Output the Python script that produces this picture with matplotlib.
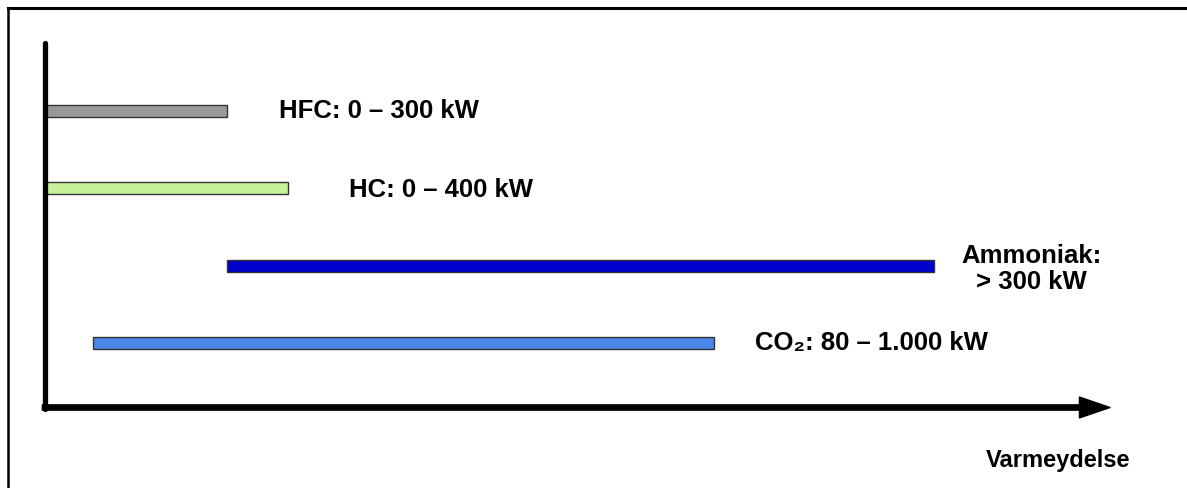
import numpy as np
import matplotlib
matplotlib.use("Agg")
from matplotlib import pyplot as plt
from matplotlib.lines import Line2D

plt.rcParams["font.family"] = ["Liberation Sans", "DejaVu Sans"]
plt.rcParams["font.weight"] = "bold"

# Kølemidler og deres anvendelsesområde (kW)
refrigerants = ["HFC", "HC", "Ammoniak", "CO₂"]
start_kw = [0, 0, 300, 80]
end_kw = [300, 400, 1310, 1000]
labels = ["HFC: 0 – 300 kW", "HC: 0 – 400 kW", "Ammoniak:\n> 300 kW", "CO₂: 80 – 1.000 kW"]
colors = ["#999999", "#c8f29a", "#0000cc", "#4a86e8"]
axis_label = "Varmeydelse"

# skematisk effektakse (ikke lineær)
kw_pts = np.array([0, 400, 1000, 3000])
pos_pts = np.array([0, 243.5, 669.5, 2089.5])


def fwd(x):
    return np.interp(x, kw_pts, pos_pts)


def inv(u):
    return np.interp(u, pos_pts, kw_pts)


W, H = 1187, 488
fig = plt.figure(figsize=(W / 100, H / 100), dpi=100)
ax = fig.add_axes([44.5 / W, 1 - 407.5 / H, (1110 - 44.5) / W, (407.5 - 43) / H])
ax.set_xscale("function", functions=(fwd, inv))
ax.set_xlim(0, inv(1110 - 44.5))
ax.set_ylim(3.826, -0.877)

y = np.arange(len(refrigerants))
widths = np.array(end_kw) - np.array(start_kw)
ax.barh(y, widths, left=start_kw, height=0.155, color=colors,
        edgecolor="#333333", linewidth=1.0, zorder=2)

# tekst ved enden af hver bjælke (forskydning i pixels)
pads = [(52, 0), (61, -2), (97, -3), (41, 0)]
for i, (lab, xe) in enumerate(zip(labels, end_kw)):
    if "\n" in lab:
        ax.annotate(lab, xy=(xe, i), xytext=pads[i], textcoords="offset pixels",
                    ha="center", va="center", fontsize=18.5, fontweight="bold",
                    multialignment="center", linespacing=1.15)
    else:
        ax.annotate(lab, xy=(xe, i), xytext=pads[i], textcoords="offset pixels",
                    ha="left", va="center", fontsize=18.5, fontweight="bold")

# akser: lodret streg og vandret pil
ax.plot([0, 0], [-0.004, 1], transform=ax.transAxes, color="black", lw=3.8,
        solid_capstyle="round", clip_on=False, zorder=3)
ax.annotate("", xy=(1, 0), xytext=(-0.002, 0), xycoords="axes fraction",
            arrowprops=dict(width=3.8, headwidth=15, headlength=22, shrink=0,
                            facecolor="black", edgecolor="black"), zorder=3)
ax.axis("off")

fig.text(1130 / W, 1 - 461 / H, axis_label, ha="right", va="center",
         fontsize=17, fontweight="bold")

# ramme: top og venstre kant
fig.add_artist(Line2D([8 / W, 1], [1 - 8 / H, 1 - 8 / H], color="black", lw=2.2))
fig.add_artist(Line2D([8 / W, 8 / W], [1 - 8 / H, 0], color="black", lw=1.8))

fig.savefig("out.png", dpi=100, facecolor="white")
